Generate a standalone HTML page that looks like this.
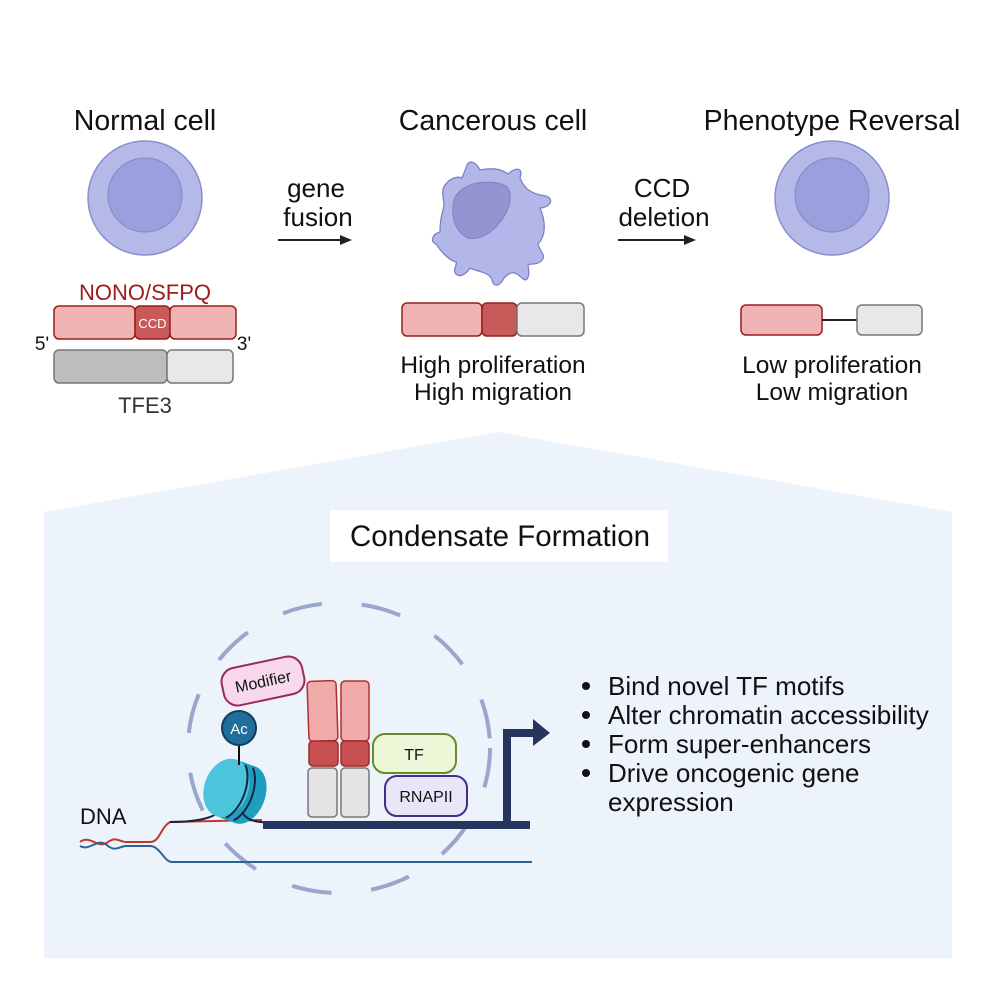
<!DOCTYPE html>
<html><head><meta charset="utf-8"><style>
html,body{margin:0;padding:0;background:#fff;}
svg{display:block;font-family:"Liberation Sans",Arial,sans-serif;}
</style></head><body>
<svg width="996" height="996" viewBox="0 0 996 996" xmlns="http://www.w3.org/2000/svg">
<polygon points="44,512 498,432 952,512 952,958 44,958" fill="#ecf3fb"/>
<g font-size="28.5" fill="#111" text-anchor="middle">
<text x="145" y="130">Normal cell</text>
<text x="493" y="130">Cancerous cell</text>
<text x="832" y="130">Phenotype Reversal</text>
</g>
<circle cx="145" cy="198" r="57" fill="#b5b9e8" stroke="#8a8fd0" stroke-width="1.5"/>
<circle cx="145" cy="195" r="37" fill="#9a9fde" stroke="#8388cc" stroke-width="1"/>
<text x="145" y="300" font-size="22" fill="#9b1c1c" text-anchor="middle">NONO/SFPQ</text>
<rect x="54" y="306" width="81" height="33" rx="5" fill="#f0b3b3" stroke="#9b1c1c" stroke-width="1.5"/>
<rect x="135" y="306" width="35" height="33" rx="5" fill="#c85a5a" stroke="#9b1c1c" stroke-width="1.5"/>
<text x="152.5" y="328" font-size="13" fill="#fff" text-anchor="middle">CCD</text>
<rect x="170" y="306" width="66" height="33" rx="5" fill="#f0b3b3" stroke="#9b1c1c" stroke-width="1.5"/>
<rect x="54" y="350" width="113" height="33" rx="5" fill="#bdbdbd" stroke="#777" stroke-width="1.5"/>
<rect x="167" y="350" width="66" height="33" rx="5" fill="#e8e8e8" stroke="#777" stroke-width="1.5"/>
<text x="42" y="350" font-size="19" fill="#111" text-anchor="middle">5'</text>
<text x="244" y="350" font-size="19" fill="#111" text-anchor="middle">3'</text>
<text x="145" y="413" font-size="22" fill="#333" text-anchor="middle">TFE3</text>
<g font-size="26" fill="#111" text-anchor="middle">
<text x="316" y="197">gene</text><text x="318" y="226">fusion</text>
<text x="662" y="197">CCD</text><text x="664" y="226">deletion</text>
</g>
<line x1="278" y1="240" x2="342" y2="240" stroke="#222" stroke-width="2"/>
<polygon points="352,240 340,235 340,245" fill="#222"/>
<line x1="618" y1="240" x2="686" y2="240" stroke="#222" stroke-width="2"/>
<polygon points="696,240 684,235 684,245" fill="#222"/>
<path d="M466,168 C468,158 476,162 480,170 C492,168 500,168 508,174 C514,168 524,166 520,178 C524,188 530,194 546,196 C556,200 548,208 540,208 C546,222 546,236 538,244 C540,252 548,256 540,262 C534,266 530,262 528,266 C530,274 528,284 522,278 C514,270 510,272 504,278 C500,286 494,288 492,280 C490,272 478,272 470,268 C466,274 460,278 456,274 C452,270 458,264 456,262 C448,260 440,250 436,244 C430,242 432,234 440,232 C440,220 442,214 444,206 C444,198 440,190 446,184 C450,178 458,176 462,178 Z" fill="#b3b6e8" stroke="#7d81c4" stroke-width="1.3"/>
<path d="M454,200 C460,182 490,178 506,186 C514,194 510,210 500,222 C490,236 476,240 468,238 C456,232 450,218 454,200 Z" fill="#9295d0" stroke="#7d81c4" stroke-width="1"/>
<rect x="402" y="303" width="80" height="33" rx="5" fill="#f0b3b3" stroke="#9b1c1c" stroke-width="1.5"/>
<rect x="482" y="303" width="35" height="33" rx="5" fill="#c85a5a" stroke="#9b1c1c" stroke-width="1.5"/>
<rect x="517" y="303" width="67" height="33" rx="5" fill="#e8e8e8" stroke="#777" stroke-width="1.5"/>
<g font-size="24.5" fill="#111" text-anchor="middle">
<text x="493" y="373">High proliferation</text><text x="493" y="400">High migration</text>
<text x="832" y="373">Low proliferation</text><text x="832" y="400">Low migration</text>
</g>
<circle cx="832" cy="198" r="57" fill="#b5b9e8" stroke="#8a8fd0" stroke-width="1.5"/>
<circle cx="832" cy="195" r="37" fill="#9a9fde" stroke="#8388cc" stroke-width="1"/>
<rect x="741" y="305" width="81" height="30" rx="5" fill="#f0b3b3" stroke="#9b1c1c" stroke-width="1.5"/>
<line x1="822" y1="320" x2="857" y2="320" stroke="#222" stroke-width="2"/>
<rect x="857" y="305" width="65" height="30" rx="5" fill="#e8e8e8" stroke="#777" stroke-width="1.5"/>
<rect x="330" y="510" width="338" height="52" fill="#fff"/>
<text x="500" y="546" font-size="29.5" fill="#111" text-anchor="middle">Condensate Formation</text>
<ellipse cx="339" cy="748" rx="151" ry="145" fill="none" stroke="#9aa6cc" stroke-width="4" stroke-dasharray="40,40"/>
<text x="80" y="824" font-size="22" fill="#111">DNA</text>
<path d="M80,842 C90,834 98,850 108,842 C116,836 120,842 126,842 L150,842 C160,842 160,828 170,822 L262,820" fill="none" stroke="#c0392b" stroke-width="2"/>
<path d="M80,846 C90,852 98,836 108,846 C116,852 120,846 126,846 L150,846 C160,846 164,862 172,862 L532,862" fill="none" stroke="#2a6496" stroke-width="2"/>
<path d="M170,822 C200,822 220,818 232,800" fill="none" stroke="#1a2340" stroke-width="2"/>
<g transform="rotate(20 232 790)">
<ellipse cx="232" cy="790" rx="24" ry="30" fill="#2fb2cf"/>
<rect x="232" y="760" width="14" height="60" fill="#1e9fc0"/>
<ellipse cx="246" cy="790" rx="20" ry="30" fill="#1e9fc0"/>
<ellipse cx="226" cy="790" rx="22" ry="30" fill="#4cc4dc"/>
<path d="M236,762 C248,775 248,805 236,818 M244,762 C256,775 256,805 244,818" fill="none" stroke="#1a2340" stroke-width="2"/>
</g>
<path d="M242,812 C248,822 256,823 290,823" fill="none" stroke="#1a2340" stroke-width="2"/>
<line x1="239" y1="745" x2="239" y2="765" stroke="#111" stroke-width="2"/>
<circle cx="239" cy="728" r="17" fill="#1f6e9c" stroke="#163b5a" stroke-width="2"/>
<text x="239" y="734" font-size="15" fill="#fff" text-anchor="middle">Ac</text>
<g transform="rotate(-12 263 681)">
<rect x="222" y="662" width="82" height="38" rx="14" fill="#f8d8ec" stroke="#9b2a5a" stroke-width="2"/>
<text x="263" y="687" font-size="16" fill="#111" text-anchor="middle">Modifier</text>
</g>
<g stroke-width="1.5">
<rect x="308" y="681" width="29" height="60" rx="4" fill="#f0aaaa" stroke="#b03030" transform="rotate(-2 322 711)"/>
<rect x="341" y="681" width="28" height="60" rx="4" fill="#f0aaaa" stroke="#b03030"/>
<rect x="309" y="741" width="29" height="25" rx="4" fill="#c85050" stroke="#a02828"/>
<rect x="341" y="741" width="28" height="25" rx="4" fill="#c85050" stroke="#a02828"/>
<rect x="308" y="768" width="29" height="49" rx="4" fill="#e4e4e4" stroke="#777"/>
<rect x="341" y="768" width="28" height="49" rx="4" fill="#e4e4e4" stroke="#777"/>
</g>
<rect x="373" y="734" width="83" height="39" rx="12" fill="#eef6d8" stroke="#6a8a2a" stroke-width="2"/>
<text x="414" y="760" font-size="16" fill="#111" text-anchor="middle">TF</text>
<rect x="385" y="776" width="82" height="40" rx="12" fill="#ebe6f7" stroke="#3e3090" stroke-width="2"/>
<text x="426" y="802" font-size="16" fill="#111" text-anchor="middle">RNAPII</text>
<rect x="263" y="821" width="267" height="8" fill="#26355e"/>
<rect x="503" y="729" width="8" height="96" fill="#26355e"/>
<rect x="503" y="729" width="34" height="8" fill="#26355e"/>
<polygon points="533,719 550,733 533,746" fill="#26355e"/>
<g font-size="26" fill="#111">
<circle cx="586" cy="686" r="4"/><text x="608" y="695">Bind novel TF motifs</text>
<circle cx="586" cy="715" r="4"/><text x="608" y="724">Alter chromatin accessibility</text>
<circle cx="586" cy="744" r="4"/><text x="608" y="753">Form super-enhancers</text>
<circle cx="586" cy="773" r="4"/><text x="608" y="782">Drive oncogenic gene</text>
<text x="608" y="811">expression</text>
</g>
</svg>
</body></html>
